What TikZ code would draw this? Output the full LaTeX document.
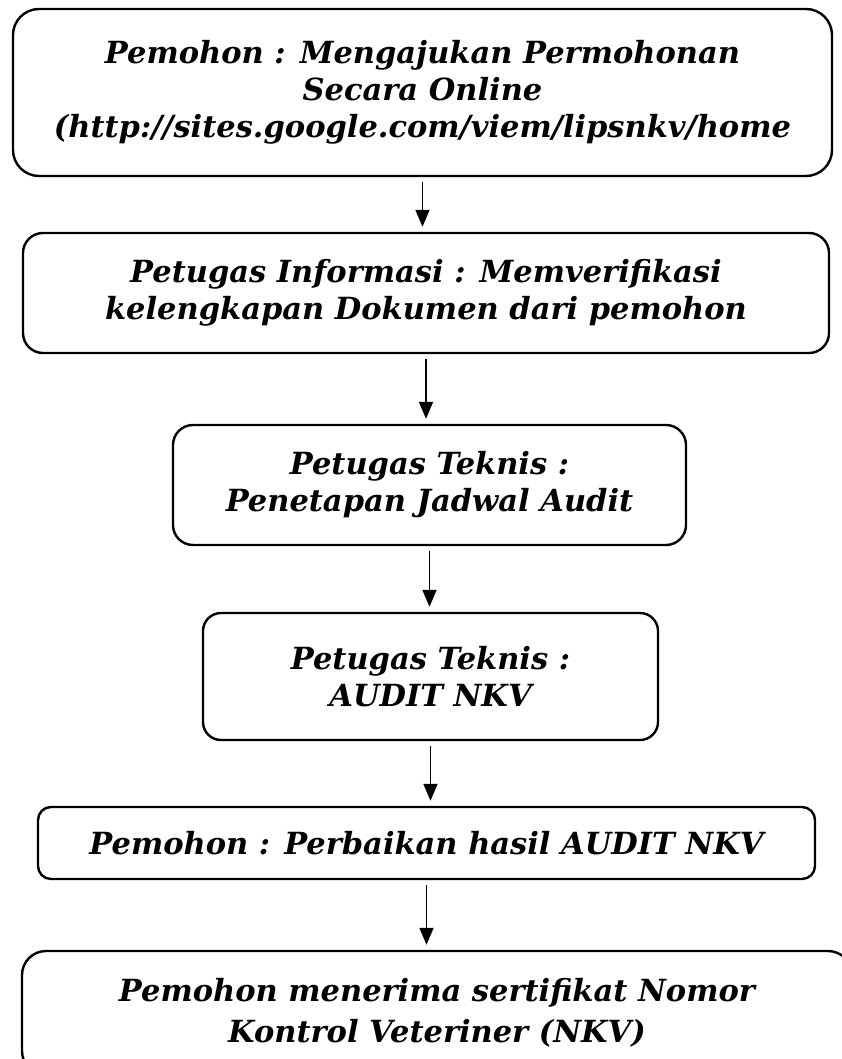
\documentclass[tikz,border=0pt]{standalone}
\usepackage{fontspec}
\setmainfont{DejaVu Serif}
\usetikzlibrary{arrows.meta}
\begin{document}
\begin{tikzpicture}[x=1pt,y=-1pt,
  box/.style={draw, line width=2.4pt, inner sep=0pt, align=center,
    font=\fontsize{30.5}{37}\selectfont\bfseries\itshape},
  arr/.style={-{Triangle[width=14pt,length=17pt]}, line width=1.8pt,
    shorten <=5pt, shorten >=5pt}]
\useasboundingbox (0,0) rectangle (842,1059);
\fill[white] (0,0) rectangle (842,1059);
\node[box, rounded corners=26pt, minimum width=819pt, minimum height=167pt] (b1) at (422.5,92.5)
  {Pemohon : Mengajukan Permohonan\\Secara Online\\(http://sites.google.com/viem/lipsnkv/home};
\node[box, rounded corners=20pt, minimum width=806pt, minimum height=120pt] (b2) at (426,293)
  {Petugas Informasi : Memverifikasi\\kelengkapan Dokumen dari pemohon};
\node[box, rounded corners=20pt, minimum width=513pt, minimum height=120pt] (b3) at (429.5,485)
  {Petugas Teknis :\\Penetapan Jadwal Audit};
\node[box, rounded corners=18pt, minimum width=455pt, minimum height=127pt] (b4) at (430.5,676.5)
  {Petugas Teknis :\\AUDIT NKV};
\node[box, rounded corners=13pt, minimum width=777pt, minimum height=72pt] (b5) at (426.5,843)
  {Pemohon : Perbaikan hasil AUDIT NKV};
\node[box, rounded corners=24pt, minimum width=830pt, minimum height=124pt,
  font=\fontsize{30.5}{41}\selectfont\bfseries\itshape] (b6) at (437,1013)
  {Pemohon menerima sertifikat Nomor\\Kontrol Veteriner (NKV)};
\draw[arr] (b1.south) -- (b1.south |- b2.north);
\draw[arr] (b2.south) -- (b2.south |- b3.north);
\draw[arr] (b3.south) -- (b3.south |- b4.north);
\draw[arr] (b4.south) -- (b4.south |- b5.north);
\draw[arr] (b5.south) -- (b5.south |- b6.north);
\end{tikzpicture}
\end{document}
